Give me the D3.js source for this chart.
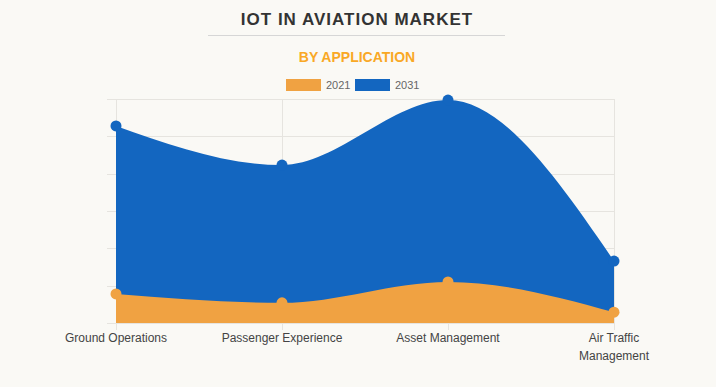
<!DOCTYPE html>
<html>
<head>
<meta charset="utf-8">
<script src="https://cdn.jsdelivr.net/npm/d3@7"></script>
<style>
  html, body { margin: 0; padding: 0; background: #faf9f5; }
  svg { display: block; font-family: "Liberation Sans", Arial, sans-serif; }
</style>
</head>
<body>
<div class="area-chart"></div>
<script>
const categories = ['Ground Operations', 'Passenger Experience', 'Asset Management', 'Air Traffic Management'];
const seriesNames = ['2021', '2031'];
const values2021 = [0.78, 0.54, 1.10, 0.29];
const values2031 = [5.28, 4.23, 5.97, 1.66];
const yTicks = [0, 1, 2, 3, 4, 5, 6];

const width = 716;
const height = 387;
const margin = { top: 99, right: 102, bottom: 64, left: 116 };
const colors = { '2021': '#f0a242', '2031': '#1366c0' };

const svg = d3.select('.area-chart')
  .append('svg')
  .attr('width', width)
  .attr('height', height)
  .style('background-color', '#faf9f5');

const innerW = width - margin.left - margin.right;
const innerH = height - margin.top - margin.bottom;

// title block
svg.append('text')
  .attr('x', 357).attr('y', 25)
  .attr('text-anchor', 'middle')
  .attr('font-size', 17).attr('font-weight', 'bold')
  .attr('letter-spacing', 1)
  .attr('fill', '#333')
  .text('IOT IN AVIATION MARKET');

svg.append('line')
  .attr('x1', 208).attr('x2', 505)
  .attr('y1', 35.5).attr('y2', 35.5)
  .attr('stroke', '#d6d6d6');

svg.append('text')
  .attr('x', 357).attr('y', 62)
  .attr('text-anchor', 'middle')
  .attr('font-size', 14).attr('font-weight', 'bold')
  .attr('fill', '#f9a825')
  .text('BY APPLICATION');

const legend = svg.append('g')
  .attr('font-size', 11)
  .selectAll('g')
  .data(seriesNames)
  .enter()
  .append('g')
  .attr('transform', (d, i) => `translate(${286 + i * 69}, 79)`);

legend.append('rect')
  .attr('width', 35).attr('height', 12)
  .attr('fill', (d) => colors[d]);

legend.append('text')
  .attr('x', 40).attr('y', 10)
  .attr('fill', '#666')
  .text((d) => d);

const g = svg.append('g')
  .attr('transform', `translate(${margin.left}, ${margin.top})`);

const xScale = d3.scalePoint()
  .domain(categories)
  .range([0, innerW]);

const yScale = d3.scaleLinear()
  .domain([0, 6])
  .range([innerH, 0]);

// grid
g.append('g')
  .selectAll('line')
  .data(yTicks)
  .enter()
  .append('line')
  .attr('x1', -9).attr('x2', innerW)
  .attr('y1', (d) => Math.round(yScale(d)) + 0.5)
  .attr('y2', (d) => Math.round(yScale(d)) + 0.5)
  .attr('stroke', '#e6e4df');

g.append('g')
  .selectAll('line')
  .data(categories)
  .enter()
  .append('line')
  .attr('x1', (d) => Math.round(xScale(d)) + 0.5)
  .attr('x2', (d) => Math.round(xScale(d)) + 0.5)
  .attr('y1', 0).attr('y2', innerH + 7)
  .attr('stroke', '#e6e4df');

const series = [
  { key: '2031', values: values2031 },
  { key: '2021', values: values2021 }
];

const area = d3.area()
  .x((d, i) => xScale(categories[i]))
  .y0(yScale(0))
  .y1((d) => yScale(d))
  .curve(d3.curveMonotoneX);

series.forEach((s) => {
  g.append('path')
    .datum(s.values)
    .attr('d', area)
    .attr('fill', colors[s.key]);

  g.append('g')
    .selectAll('circle')
    .data(s.values)
    .enter()
    .append('circle')
    .attr('cx', (d, i) => xScale(categories[i]))
    .attr('cy', (d) => yScale(d))
    .attr('r', 5.5)
    .attr('fill', colors[s.key]);
});

// x labels
const xAxis = g.append('g')
  .attr('transform', `translate(0, ${innerH})`)
  .attr('font-size', 12)
  .attr('fill', '#444');

xAxis.selectAll('text')
  .data(categories)
  .enter()
  .append('text')
  .attr('x', (d) => xScale(d))
  .attr('y', 19)
  .attr('text-anchor', 'middle')
  .each(function (d) {
    const lines = d === 'Air Traffic Management' ? ['Air Traffic', 'Management'] : [d];
    d3.select(this).selectAll('tspan')
      .data(lines)
      .enter()
      .append('tspan')
      .attr('x', xScale(d))
      .attr('dy', (l, i) => i === 0 ? 0 : 18)
      .text((l) => l);
  });
</script>
</body>
</html>
